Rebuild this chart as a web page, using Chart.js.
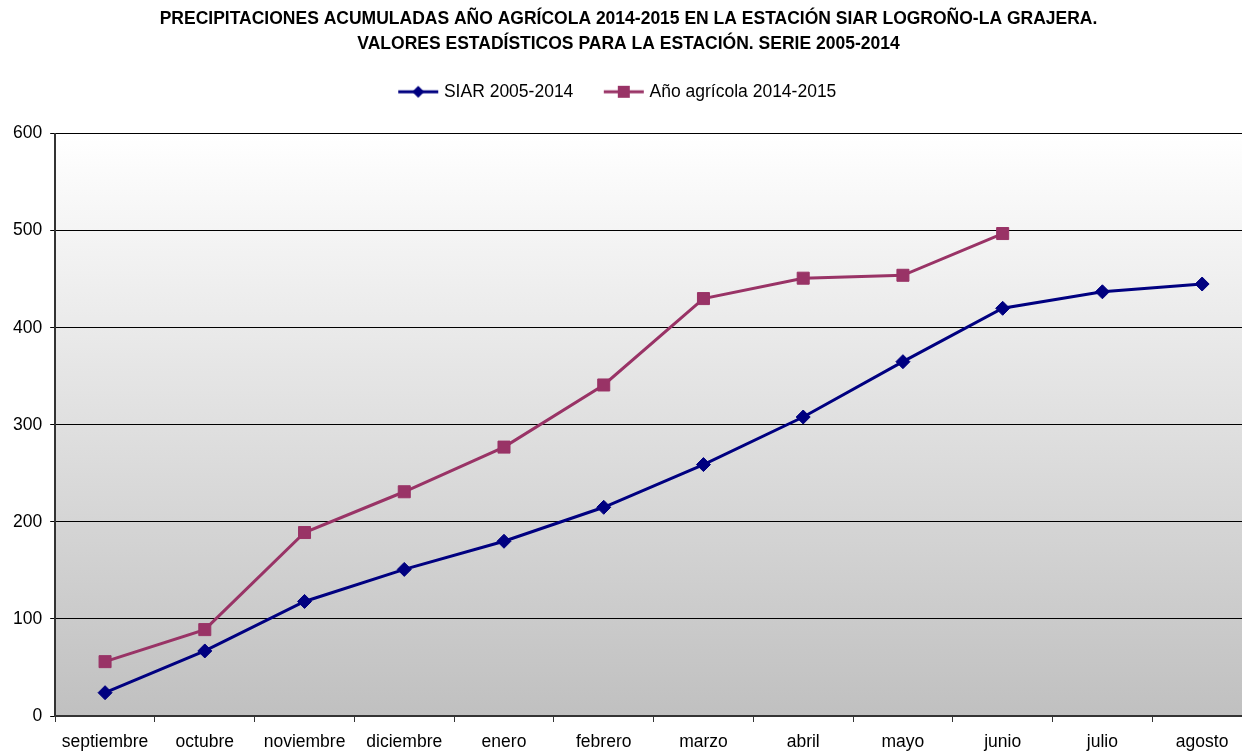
<!DOCTYPE html>
<html>
<head>
<meta charset="utf-8">
<script src="https://cdn.jsdelivr.net/npm/chart.js@4"></script>
<style>
  html, body { margin: 0; padding: 0; background: #fff; overflow: hidden; }
  #wrap { width: 1262px; height: 751px; }
</style>
</head>
<body>
<div id="wrap"><canvas id="grafico"></canvas></div>
<script>
const meses = ['septiembre', 'octubre', 'noviembre', 'diciembre', 'enero', 'febrero', 'marzo', 'abril', 'mayo', 'junio', 'julio', 'agosto'];
const siar = [24, 67, 118, 151, 180, 215, 259, 308, 365, 420, 437, 445];
const anioAgricola = [56, 89, 189, 231, 277, 341, 430, 451, 454, 497];
const titulo = [
  'PRECIPITACIONES ACUMULADAS AÑO AGRÍCOLA 2014-2015 EN LA ESTACIÓN SIAR LOGROÑO-LA GRAJERA.',
  'VALORES ESTADÍSTICOS PARA LA ESTACIÓN. SERIE 2005-2014'
];
const fuente = 'Liberation Sans, Arial, sans-serif';

// icono de leyenda: linea con marcador
function iconoLeyenda(color, forma) {
  const c = document.createElement('canvas');
  c.width = 42; c.height = 16;
  const ctx = c.getContext('2d');
  ctx.strokeStyle = color;
  ctx.lineWidth = 3;
  ctx.beginPath();
  ctx.moveTo(1, 8); ctx.lineTo(41, 8);
  ctx.stroke();
  ctx.fillStyle = color;
  if (forma === 'rombo') {
    ctx.beginPath();
    ctx.moveTo(21, 2); ctx.lineTo(27, 8); ctx.lineTo(21, 14); ctx.lineTo(15, 8);
    ctx.closePath();
    ctx.fill();
  } else {
    ctx.fillRect(15, 2, 12, 12);
  }
  return c;
}

const fondo = {
  id: 'fondo',
  beforeDraw(chart) {
    const { ctx, chartArea: a } = chart;
    const g = ctx.createLinearGradient(0, a.top, 0, a.bottom);
    g.addColorStop(0, '#ffffff');
    g.addColorStop(1, '#c0c0c0');
    ctx.save();
    ctx.fillStyle = g;
    ctx.fillRect(a.left, a.top, a.right - a.left, a.bottom - a.top);
    ctx.restore();
  }
};

// mas espacio debajo de la leyenda
const margenLeyenda = {
  id: 'margenLeyenda',
  beforeInit(chart) {
    const fitOriginal = chart.legend.fit;
    chart.legend.fit = function () {
      fitOriginal.bind(chart.legend)();
      this.height += 23;
    };
  }
};

const contexto = document.getElementById('grafico').getContext('2d');
const grafico = new Chart(contexto, {
  type: 'line',
  plugins: [fondo, margenLeyenda],
  data: {
    labels: meses,
    datasets: [{
      label: 'SIAR 2005-2014',
      data: siar,
      borderColor: '#000080',
      backgroundColor: '#000080',
      borderWidth: 3,
      pointStyle: 'rectRot',
      pointRadius: 7,
      pointHoverRadius: 7,
      pointBorderWidth: 1,
      tension: 0
    }, {
      label: 'Año agrícola 2014-2015',
      data: anioAgricola,
      borderColor: '#993366',
      backgroundColor: '#993366',
      borderWidth: 3,
      pointStyle: 'rect',
      pointRadius: 8.5,
      pointHoverRadius: 8.5,
      pointBorderWidth: 1,
      tension: 0
    }]
  },
  options: {
    responsive: true,
    maintainAspectRatio: false,
    animation: false,
    layout: { padding: { left: 5, right: 10, top: 7, bottom: -12 } },
    plugins: {
      title: {
        display: true,
        text: titulo,
        color: '#000',
        font: { family: fuente, size: 17.5, weight: 'bold', lineHeight: 1.43 },
        padding: { top: 0, bottom: 12 }
      },
      legend: {
        labels: {
          usePointStyle: true,
          pointStyleWidth: 34,
          generateLabels(chart) {
            return chart.data.datasets.map((ds, i) => ({
              text: ds.label + '\u00a0\u00a0\u00a0\u00a0',
              pointStyle: iconoLeyenda(ds.borderColor, i === 0 ? 'rombo' : 'cuadrado'),
              fillStyle: ds.borderColor,
              strokeStyle: ds.borderColor,
              lineWidth: 0,
              hidden: false,
              datasetIndex: i,
              fontColor: '#000'
            }));
          },
          color: '#000',
          font: { family: fuente, size: 17.5 },
          padding: 14
        }
      },
      tooltip: { enabled: false }
    },
    scales: {
      x: {
        offset: true,
        grid: { offset: true, drawOnChartArea: false, drawTicks: true, tickLength: 6, color: '#333' },
        border: { color: '#333', width: 2 },
        ticks: { color: '#000', font: { family: fuente, size: 17.5 }, maxRotation: 0, autoSkip: false, padding: 10 }
      },
      y: {
        min: 0,
        max: 600,
        ticks: { stepSize: 100, color: '#000', font: { family: fuente, size: 17.5 }, padding: 8 },
        grid: { color: '#000', lineWidth: 1, tickLength: 5 },
        border: { color: '#333', width: 2 }
      }
    }
  }
});
</script>
</body>
</html>
